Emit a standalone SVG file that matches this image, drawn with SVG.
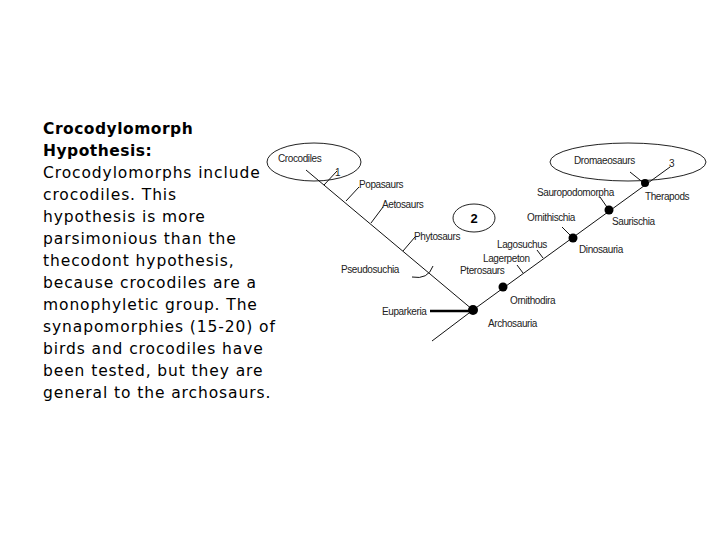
<svg xmlns="http://www.w3.org/2000/svg" width="720" height="540" viewBox="0 0 720 540">
<style>
.t{font-family:"DejaVu Sans",sans-serif;font-size:15.5px;letter-spacing:0.9px;fill:#000}
.b{font-weight:bold;letter-spacing:0.5px}
.l{font-family:"Liberation Sans",Arial,sans-serif;font-size:10px;fill:#222;letter-spacing:-0.4px}
.ln{stroke:#111;stroke-width:1;fill:none}
.dot{fill:#000}
.el{fill:#fff;stroke:#222;stroke-width:1}
</style>
<rect width="720" height="540" fill="#fff"/>
<g id="text">
<text class="t b" x="43" y="134">Crocodylomorph</text>
<text class="t b" x="43" y="156">Hypothesis:</text>
<text class="t" x="43" y="178">Crocodylomorphs include</text>
<text class="t" x="43" y="200">crocodiles. This</text>
<text class="t" x="43" y="222">hypothesis is more</text>
<text class="t" x="43" y="244">parsimonious than the</text>
<text class="t" x="43" y="266">thecodont hypothesis,</text>
<text class="t" x="43" y="288">because crocodiles are a</text>
<text class="t" x="43" y="310">monophyletic group.  The</text>
<text class="t" x="43" y="332">synapomorphies (15-20) of</text>
<text class="t" x="43" y="354">birds and crocodiles have</text>
<text class="t" x="43" y="376">been tested, but they are</text>
<text class="t" x="43" y="398">general to the archosaurs.</text>
</g>
<g id="ellipses">
<ellipse id="croc-ellipse" class="el" cx="314" cy="162" rx="47" ry="19"/>
<ellipse id="dromaeo-ellipse" class="el" cx="628" cy="162" rx="78" ry="19"/>
<ellipse id="two-ellipse" class="el" cx="474" cy="218" rx="21" ry="14"/>
</g>
<g id="connectors">
<line class="ln" x1="432" y1="341" x2="473" y2="310"/>
<line class="ln" x1="473" y1="310" x2="306" y2="170"/>
<line class="ln" x1="324" y1="185" x2="337" y2="171"/>
<line class="ln" x1="346" y1="201" x2="359" y2="187"/>
<line class="ln" x1="371" y1="223" x2="383" y2="207"/>
<line class="ln" x1="403" y1="251" x2="415" y2="237"/>
<path class="ln" d="M412 277 Q428 280 433 266"/>
<line class="ln" x1="473" y1="310" x2="670" y2="167"/>
<line class="ln" x1="630" y1="172" x2="645" y2="184"/>
<line class="ln" x1="523" y1="273" x2="517" y2="265"/>
<line class="ln" x1="543" y1="258" x2="537" y2="250"/>
<line class="ln" x1="573" y1="238" x2="562" y2="227"/>
<line class="ln" x1="609" y1="210" x2="600" y2="197"/>
<line x1="430" y1="311" x2="473" y2="311" stroke="#000" stroke-width="2.5"/>
</g>
<g id="nodes">
<circle class="dot" cx="473" cy="310" r="5"/>
<circle class="dot" cx="503" cy="287" r="4.5"/>
<circle class="dot" cx="573" cy="238" r="4.5"/>
<circle class="dot" cx="609" cy="210" r="4.5"/>
<circle class="dot" cx="645" cy="183" r="4"/>
</g>
<g id="labels">
<text class="l" x="278" y="162">Crocodiles</text>
<text class="l" x="335" y="176">1</text>
<text class="l" x="359" y="188">Popasaurs</text>
<text class="l" x="382" y="208">Aetosaurs</text>
<text class="l" x="414" y="240">Phytosaurs</text>
<text class="l" x="341" y="273">Pseudosuchia</text>
<text class="l" x="382" y="315">Euparkeria</text>
<text class="l" x="488" y="327">Archosauria</text>
<text class="l" x="510" y="304">Ornithodira</text>
<text class="l" x="460" y="274">Pterosaurs</text>
<text class="l" x="483" y="262">Lagerpeton</text>
<text class="l" x="497" y="248">Lagosuchus</text>
<text class="l" x="527" y="221">Ornithischia</text>
<text class="l" x="579" y="253">Dinosauria</text>
<text class="l" x="537" y="196">Sauropodomorpha</text>
<text class="l" x="612" y="225">Saurischia</text>
<text class="l" x="645" y="200">Therapods</text>
<text class="l" x="574" y="164">Dromaeosaurs</text>
<text class="l" x="669" y="167">3</text>
<text x="474" y="223" font-family="Liberation Sans,Arial,sans-serif" font-size="13" font-weight="bold" text-anchor="middle">2</text>
</g>
</svg>
